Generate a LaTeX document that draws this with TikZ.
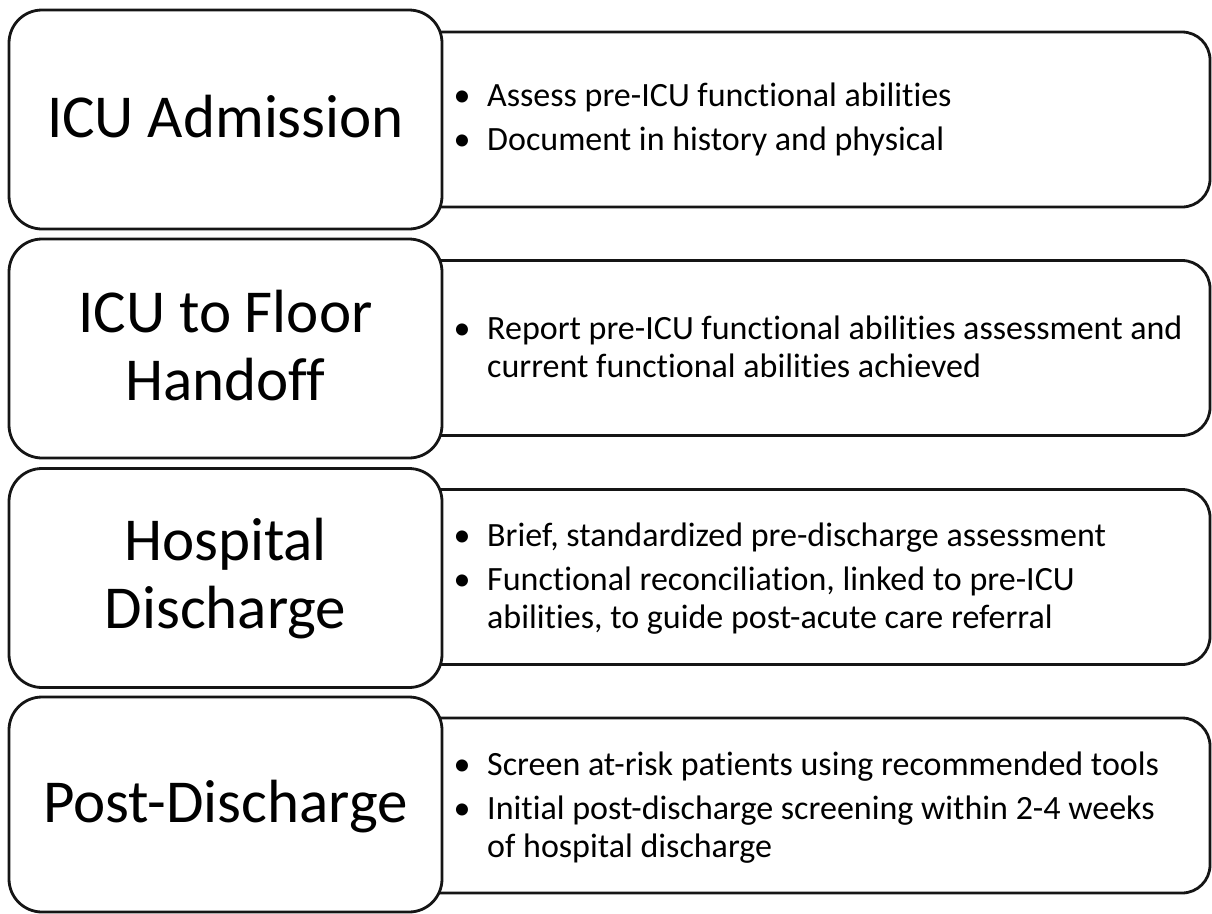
\documentclass[tikz,border=0pt]{standalone}
\usepackage{fontspec}
\setmainfont[Ligatures={NoCommon}]{Carlito}
\definecolor{linec}{HTML}{151515}
\newcommand\bulmark{\makebox[50pt][c]{\textbullet}}
\begin{document}
\begin{tikzpicture}[x=1pt,y=-1pt,
  lbox/.style={draw=linec, line width=2.8pt, fill=white, rounded corners=33pt,
    minimum width=433pt, inner sep=0pt, outer sep=0pt},
  rbox/.style={draw=linec, line width=2.8pt, fill=white, rounded corners=28pt,
    minimum width=810pt, minimum height=175pt, inner sep=0pt, outer sep=0pt},
  ltext/.style={anchor=base, inner sep=0pt, font=\fontsize{61}{68}\selectfont},
  rtext/.style={anchor=base west, inner sep=0pt, font=\fontsize{34}{38}\selectfont}]
\useasboundingbox[fill=white] (0,0) rectangle (1212,913);

% right boxes (drawn first, partly covered by the left boxes)
\node[rbox] (r1) at (805,119.5) {};
\node[rbox] (r2) at (805,348) {};
\node[rbox] (r3) at (805,577) {};
\node[rbox] (r4) at (805,805.5) {};

% left boxes
\node[lbox, minimum height=219pt] (l1) at (225.5,119.5) {};
\node[lbox, minimum height=219pt] (l2) at (225.5,348.5) {};
\node[lbox, minimum height=219pt] (l3) at (225.5,578) {};
\node[lbox, minimum height=215pt] (l4) at (225.5,804.5) {};

% left labels
\node[ltext] (a1) at (225.5,137) {\begin{tabular}[t]{@{}c@{}}ICU Admission\end{tabular}};
\node[ltext] (a2) at (225.5,332) {\begin{tabular}[t]{@{}c@{}}ICU to Floor\\Handoff\end{tabular}};
\node[ltext] (a3) at (225.5,560) {\begin{tabular}[t]{@{}c@{}}Hospital\\Discharge\end{tabular}};
\node[ltext] (a4) at (225.5,822) {\begin{tabular}[t]{@{}c@{}}Post-Discharge\end{tabular}};

% right bullet texts
\node[rtext] (b1) at (437,106) {\begin{tabular}[t]{@{}l@{}l@{}}
\bulmark & Assess pre-ICU functional abilities\\[6pt]
\bulmark & Document in history and physical\end{tabular}};
\node[rtext] (b2) at (437,339) {\begin{tabular}[t]{@{}l@{}l@{}}
\bulmark & Report pre-ICU functional abilities assessment and\\
 & current functional abilities achieved\end{tabular}};
\node[rtext] (b3) at (437,546) {\begin{tabular}[t]{@{}l@{}l@{}}
\bulmark & Brief, standardized pre-discharge assessment\\[6pt]
\bulmark & Functional reconciliation, linked to pre-ICU\\
 & abilities, to guide post-acute care referral\end{tabular}};
\node[rtext] (b4) at (437,775) {\begin{tabular}[t]{@{}l@{}l@{}}
\bulmark & Screen at-risk patients using recommended tools\\[6pt]
\bulmark & Initial post-discharge screening within 2-4 weeks\\
 & of hospital discharge\end{tabular}};
\end{tikzpicture}
\end{document}
